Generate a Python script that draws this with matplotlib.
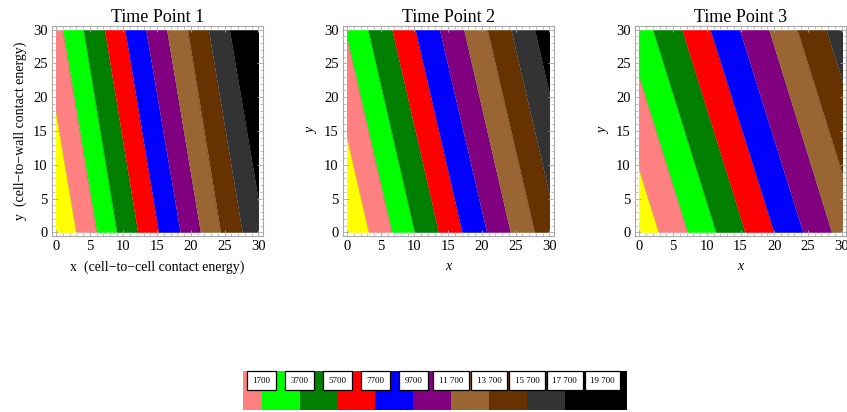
import matplotlib
matplotlib.use("Agg")
import matplotlib.pyplot as plt
import matplotlib.ticker as mticker
from matplotlib.patches import Rectangle

plt.rcParams["font.family"] = ["Liberation Serif", "DejaVu Serif"]

# band colours, low -> high energy
BAND_COLORS = ["#ffff00", "#ff8080", "#00ff00", "#007f00", "#ff0000", "#0000ff",
               "#800080", "#996633", "#663300", "#333333", "#000000"]
LEVELS = [-300, 1700, 3700, 5700, 7700, 9700, 11700, 13700, 15700, 17700, 19700]
LEGEND_LABELS = ["1700", "3700", "5700", "7700", "9700", "11 700", "13 700",
                 "15 700", "17 700", "19 700"]

TITLES = ["Time Point 1", "Time Point 2", "Time Point 3"]

# x position of each contour boundary at y = 0 and at y = 30
tp1_x_bottom = [2.97, 6.03, 9.0, 12.1, 15.2, 18.4, 21.4, 24.4, 27.6, 30.8]
tp1_x_top = [-2.1, 0.99, 4.05, 7.17, 10.2, 13.3, 16.4, 19.5, 22.6, 25.7]
tp2_x_bottom = [3.2, 6.65, 10.0, 13.55, 17.05, 20.7, 24.2, 27.8, 31.3, 34.8]
tp2_x_top = [-3.7, -0.3, 3.1, 6.65, 10.1, 13.7, 17.3, 20.8, 24.3, 27.8]
tp3_x_bottom = [2.85, 7.15, 11.35, 15.65, 19.95, 24.25, 28.5, 32.8, 37.1, 41.4]
tp3_x_top = [-6.5, -2.2, 2.0, 6.3, 10.5, 14.85, 19.2, 23.4, 27.7, 32.0]

PANELS = [(tp1_x_bottom, tp1_x_top), (tp2_x_bottom, tp2_x_top), (tp3_x_bottom, tp3_x_top)]

FRAME = "#a8a8a8"
W, H = 847, 412
AX_LEFT = [51.7, 342.7, 635.0]   # px
AX_W, AX_BOT, AX_H = 211, 236, 210


def draw_panel(ax, x_bottom, x_top):
    clip = Rectangle((0, 0), 30, 30, transform=ax.transData)
    far = 100.0
    lefts = [(-far, -far)] + list(zip(x_bottom, x_top))
    rights = list(zip(x_bottom, x_top)) + [(far, far)]
    for color, lo, hi in zip(BAND_COLORS, lefts, rights):
        poly = ax.fill_betweenx([0, 30], [lo[0], lo[1]], [hi[0], hi[1]],
                                color=color, linewidth=0)
        poly.set_clip_path(clip)
    for xb, xt in zip(x_bottom, x_top):
        ln, = ax.plot([xb, xt], [0, 30], color="black", alpha=0.2, lw=0.5)
        ln.set_clip_path(clip)
    ax.set_xlim(-0.65, 30.65)
    ax.set_ylim(-0.55, 30.55)
    ax.xaxis.set_major_locator(mticker.MultipleLocator(5))
    ax.yaxis.set_major_locator(mticker.MultipleLocator(5))
    ax.xaxis.set_minor_locator(mticker.MultipleLocator(1))
    ax.yaxis.set_minor_locator(mticker.MultipleLocator(1))
    ax.tick_params(which="both", direction="in", top=True, right=True,
                   color=FRAME, labelsize=10.5, pad=3)
    ax.tick_params(which="major", length=4, width=0.6)
    ax.tick_params(which="minor", length=2, width=0.5)
    for sp in ax.spines.values():
        sp.set_color(FRAME)
        sp.set_linewidth(0.8)


fig = plt.figure(figsize=(W / 100, H / 100), dpi=100)

for i, (title, (xb, xt)) in enumerate(zip(TITLES, PANELS)):
    ax = fig.add_axes([AX_LEFT[i] / W, (H - AX_BOT) / H, AX_W / W, AX_H / H])
    draw_panel(ax, xb, xt)
    ax.set_title(title, fontsize=13, pad=2)
    if i == 0:
        ax.set_xlabel("x  (cell\u2212to\u2212cell contact energy)", fontsize=10, labelpad=5)
        ax.set_ylabel("y  (cell\u2212to\u2212wall contact energy)", fontsize=10, labelpad=4)
    else:
        ax.set_xlabel("x", fontsize=10, style="italic", labelpad=5)
        ax.set_ylabel("y", fontsize=10, style="italic", labelpad=4, rotation=90)

# colour legend strip: pink .. black, one swatch per band between levels
lax = fig.add_axes([242.7 / W, 2 / H, 384.6 / W, 39 / H])
seg_start = [700] + LEVELS[1:-1]
seg_end = LEVELS[1:-1] + [21000]
for color, s, e in zip(BAND_COLORS[1:], seg_start, seg_end):
    lax.barh(0, e - s, left=s, height=1, color=color, linewidth=0)
lax.set_xlim(700, 21000)
lax.set_ylim(-0.5, 0.5)
lax.axis("off")
for lev, lab in zip(LEVELS[1:], LEGEND_LABELS):
    lax.text(lev, 0.25, lab, ha="center", va="center", fontsize=6.5,
             bbox=dict(boxstyle="square,pad=0.6", fc="white", ec="black", lw=0.9))

fig.savefig("out.png", dpi=100)
